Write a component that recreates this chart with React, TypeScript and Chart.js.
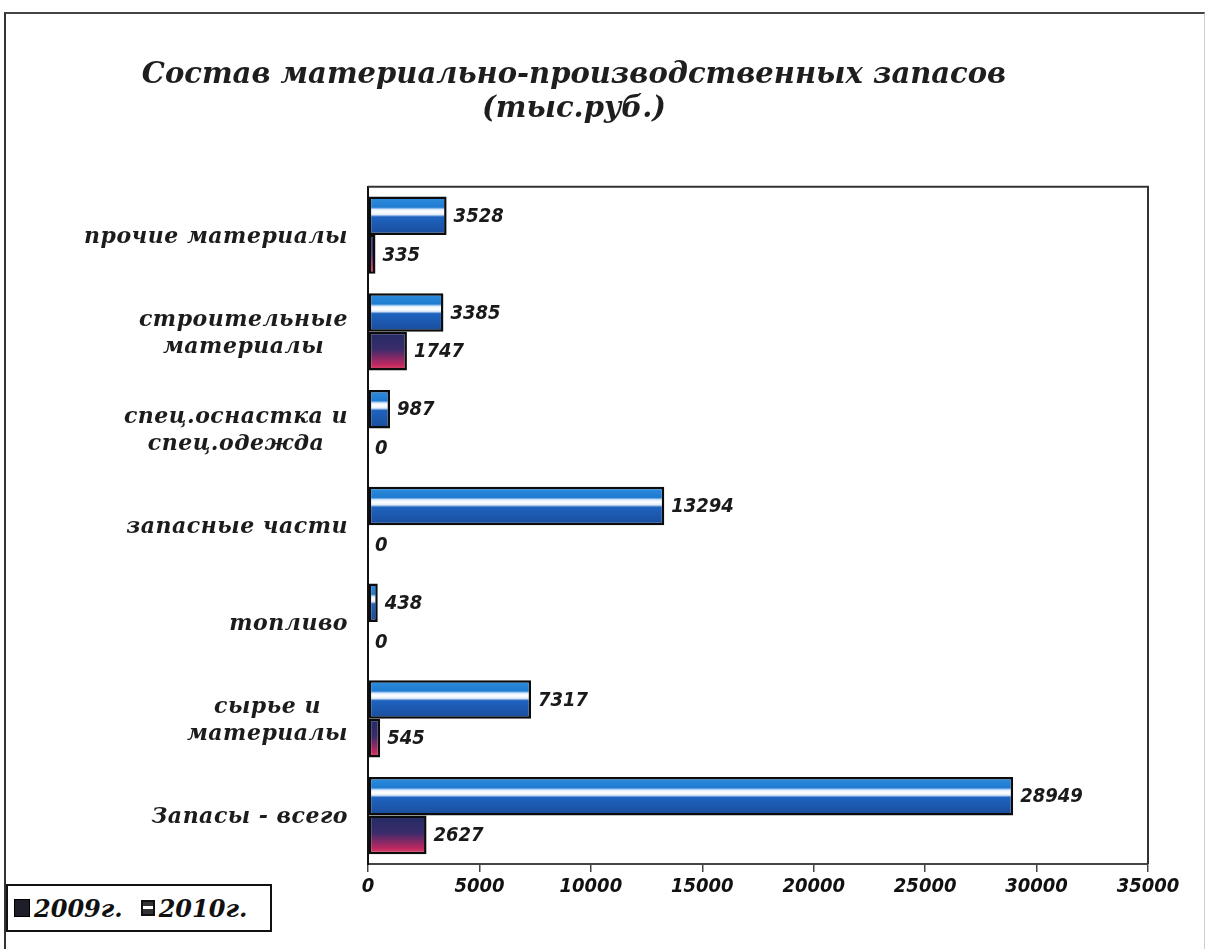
import React, { useEffect, useRef } from "react";
import { Chart, registerables } from "chart.js";

Chart.register(...registerables);

// ---- data ----
const categories: string[][] = [
  ["прочие материалы"],
  ["строительные", "материалы"],
  ["спец.оснастка и", "спец.одежда"],
  ["запасные части"],
  ["топливо"],
  ["сырье и", "материалы"],
  ["Запасы - всего"],
];
const values2009: number[] = [335, 1747, 0, 0, 0, 545, 2627];
const values2010: number[] = [3528, 3385, 987, 13294, 438, 7317, 28949];
const seriesLabels: string[] = ["2009г.", "2010г."];
const xTickValues: number[] = [0, 5000, 10000, 15000, 20000, 25000, 30000, 35000];
const xTickLabels: string[] = ["0", "5000", "10000", "15000", "20000", "25000", "30000", "35000"];
const titleLines: string[] = ["Состав материально-производственных запасов", "(тыс.руб.)"];

const SERIF = "'DejaVu Serif', serif";
const NARROW = "'Liberation Sans Narrow', 'DejaVu Sans Condensed', sans-serif";

function blueGradient(ctx: CanvasRenderingContext2D, top: number, bottom: number) {
  const g = ctx.createLinearGradient(0, top, 0, bottom);
  g.addColorStop(0, "#2f8fe0");
  g.addColorStop(0.28, "#1f7bd0");
  g.addColorStop(0.34, "#dfeeff");
  g.addColorStop(0.4, "#ffffff");
  g.addColorStop(0.47, "#e4eefa");
  g.addColorStop(0.53, "#1e63bf");
  g.addColorStop(1, "#1a4c9c");
  return g;
}
function redGradient(ctx: CanvasRenderingContext2D, top: number, bottom: number) {
  const g = ctx.createLinearGradient(0, top, 0, bottom);
  g.addColorStop(0, "#222b66");
  g.addColorStop(0.45, "#3a2c6a");
  g.addColorStop(0.85, "#c02862");
  g.addColorStop(0.93, "#cf3a62");
  g.addColorStop(1, "#e6a060");
  return g;
}

const gradientPlugin = {
  id: "barGradients",
  beforeDatasetsDraw(chart: any) {
    const ctx = chart.ctx;
    chart.data.datasets.forEach((_ds: any, di: number) => {
      const meta = chart.getDatasetMeta(di);
      meta.data.forEach((el: any) => {
        const p = el.getProps(["y", "height"], true);
        const top = p.y - p.height / 2;
        const bottom = p.y + p.height / 2;
        const grad = di === 0 ? blueGradient(ctx, top, bottom) : redGradient(ctx, top, bottom);
        el.options = Object.assign({}, el.options, { backgroundColor: grad });
      });
    });
  },
};

const framePlugin = {
  id: "plotFrame",
  beforeDatasetsDraw(chart: any) {
    const { ctx, chartArea } = chart;
    ctx.save();
    ctx.strokeStyle = "#333";
    ctx.lineWidth = 2;
    ctx.beginPath();
    ctx.moveTo(chartArea.left, chartArea.top);
    ctx.lineTo(chartArea.right, chartArea.top);
    ctx.lineTo(chartArea.right, chartArea.bottom);
    ctx.stroke();
    ctx.restore();
  },
};

const valueLabelPlugin = {
  id: "valueLabels",
  afterDatasetsDraw(chart: any) {
    const ctx = chart.ctx;
    ctx.save();
    ctx.font = `italic bold 20px ${NARROW}`;
    ctx.fillStyle = "#1a1a1a";
    ctx.textAlign = "left";
    ctx.textBaseline = "middle";
    chart.data.datasets.forEach((ds: any, di: number) => {
      const meta = chart.getDatasetMeta(di);
      meta.data.forEach((el: any, i: number) => {
        const p = el.getProps(["x", "y"], true);
        ctx.fillText(String(ds.data[i]), p.x + 7, p.y + 1);
      });
    });
    ctx.restore();
  },
};

const yLabelPlugin = {
  id: "yLabels",
  afterDraw(chart: any) {
    const ctx = chart.ctx;
    const y = chart.scales.y;
    ctx.save();
    ctx.font = `italic bold 22px ${SERIF}`;
    try {
      (ctx as any).letterSpacing = "0.5px";
    } catch (e) {}
    ctx.fillStyle = "#1c1c1c";
    ctx.textAlign = "center";
    ctx.textBaseline = "middle";
    const lh = 27;
    categories.forEach((lines, i) => {
      const cy = y.getPixelForValue(i) + 2;
      const maxW = Math.max(...lines.map((l) => ctx.measureText(l).width));
      const cx = y.right - 20 - maxW / 2;
      lines.forEach((l, j) => {
        ctx.fillText(l, cx, cy + (j - (lines.length - 1) / 2) * lh);
      });
    });
    ctx.restore();
  },
};

export default function App() {
  const ref = useRef<HTMLCanvasElement | null>(null);

  useEffect(() => {
    if (!ref.current) return;
    const chart = new Chart(ref.current, {
      type: "bar",
      data: {
        labels: categories.map((l) => l.join(" ")),
        datasets: [
          {
            label: seriesLabels[1],
            data: values2010,
            backgroundColor: "#1f6fc8",
            borderColor: "#0c0c0c",
            borderWidth: 2.5,
            borderSkipped: false,
          },
          {
            label: seriesLabels[0],
            data: values2009,
            backgroundColor: "#5a2a6a",
            borderColor: "#0c0c0c",
            borderWidth: 2.5,
            borderSkipped: false,
          },
        ],
      },
      options: {
        indexAxis: "y",
        responsive: false,
        animation: false,
        devicePixelRatio: 1,
        layout: { padding: { left: 0, right: 58, top: 0, bottom: 47 } },
        datasets: { bar: { categoryPercentage: 0.8, barPercentage: 1.0 } },
        plugins: {
          legend: { display: false },
          tooltip: { enabled: false },
          title: {
            display: true,
            text: titleLines,
            color: "#1e1e1e",
            font: { family: SERIF, size: 29, weight: "bold", style: "italic", lineHeight: 1.15 },
            padding: { top: 59, bottom: 61 },
          },
        },
        scales: {
          x: {
            type: "linear",
            min: 0,
            max: 35000,
            afterBuildTicks: (scale: any) => {
              scale.ticks = xTickValues.map((v) => ({ value: v }));
            },
            ticks: {
              padding: 3,
              color: "#111",
              font: { family: NARROW, size: 20, weight: "bold", style: "italic", lineHeight: 1.2 },
              callback: (v: any) => {
                const idx = xTickValues.indexOf(Number(v));
                return idx >= 0 ? xTickLabels[idx] : "";
              },
            },
            grid: {
              display: true,
              drawOnChartArea: false,
              drawTicks: true,
              tickLength: 8,
              color: "#444",
              lineWidth: 1.5,
            },
            border: { display: true, color: "#444", width: 2 },
          },
          y: {
            type: "category",
            ticks: { display: false },
            grid: { display: false },
            border: { display: true, color: "#111", width: 2 },
            afterFit: (scale: any) => {
              scale.width = 368;
            },
          },
        },
      },
      plugins: [gradientPlugin, framePlugin, valueLabelPlugin, yLabelPlugin],
    } as any);
    return () => chart.destroy();
  }, []);

  const legendText: React.CSSProperties = {
    fontFamily: SERIF,
    fontWeight: "bold",
    fontStyle: "italic",
    fontSize: 24,
    color: "#111",
  };

  return (
    <div style={{ position: "fixed", left: 0, top: 0, width: 1206, height: 949, background: "#fff", overflow: "hidden" }}>
      <canvas ref={ref} width={1206} height={949} style={{ position: "absolute", left: 0, top: 0, width: 1206, height: 949 }} />
      <div
        style={{
          position: "absolute",
          left: 4,
          top: 12,
          width: 1198,
          height: 950,
          borderTop: "2px solid #444",
          borderLeft: "2px solid #333",
          borderRight: "1px solid #ccc",
          pointerEvents: "none",
        }}
      />
      <div
        style={{
          position: "absolute",
          left: 6,
          top: 884,
          width: 266,
          height: 48,
          border: "2px solid #111",
          background: "#fff",
          display: "flex",
          alignItems: "center",
          paddingLeft: 6,
          boxSizing: "border-box",
          gap: 4,
        }}
      >
        <span style={{ display: "inline-block", width: 14, height: 16, background: "#1e1e2a", border: "1px solid #000" }} />
        <span style={legendText}>{seriesLabels[0]}</span>
        <span
          style={{
            display: "inline-block",
            width: 14,
            height: 16,
            marginLeft: 14,
            border: "2px solid #111",
            boxSizing: "border-box",
            background: "linear-gradient(#333 0 35%, #fff 35% 60%, #333 60% 100%)",
          }}
        />
        <span style={legendText}>{seriesLabels[1]}</span>
      </div>
    </div>
  );
}
